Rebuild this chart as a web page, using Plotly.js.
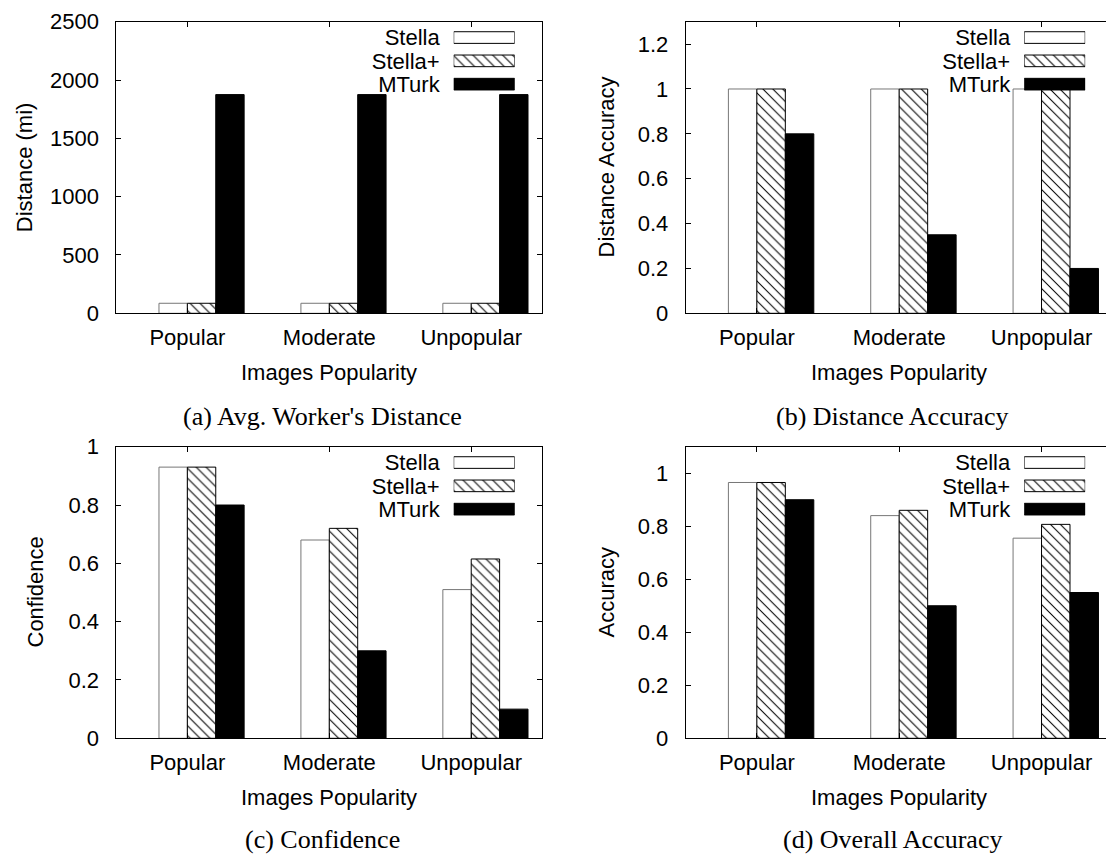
<!DOCTYPE html>
<html>
<head>
<meta charset="utf-8">
<script src="https://cdn.plot.ly/plotly-3.0.1.min.js"></script>
<style>
html, body { margin: 0; padding: 0; overflow: hidden; background: #fff; }
#chart { width: 1120px; height: 855px; }
</style>
</head>
<body>
<div id="chart"></div>
<script>
// ---------------- data ----------------
const categories = ['Popular', 'Moderate', 'Unpopular'];
const seriesNames = ['Stella', 'Stella+', 'MTurk'];

// (a) Avg. Worker's Distance (mi)
const distStella     = [86, 86, 86];
const distStellaPlus = [86, 86, 86];
const distMTurk      = [1875, 1875, 1875];

// (b) Distance Accuracy
const daStella     = [1, 1, 1];
const daStellaPlus = [1, 1, 1];
const daMTurk      = [0.8, 0.35, 0.2];

// (c) Confidence
const confStella     = [0.93, 0.68, 0.51];
const confStellaPlus = [0.93, 0.72, 0.615];
const confMTurk      = [0.8, 0.3, 0.1];

// (d) Overall Accuracy
const accStella     = [0.965, 0.84, 0.755];
const accStellaPlus = [0.965, 0.86, 0.807];
const accMTurk      = [0.9, 0.5, 0.55];

const yTitles  = ['Distance (mi)', 'Distance Accuracy', 'Confidence', 'Accuracy'];
const xTitle   = 'Images Popularity';
const captions = ["(a) Avg. Worker's Distance", '(b) Distance Accuracy', '(c) Confidence', '(d) Overall Accuracy'];
const yRanges  = [[0, 2500], [0, 1.3], [0, 1], [0, 1.1]];
const yDticks  = [500, 0.2, 0.2, 0.2];
const legendKeyLength = [1, 1, 1];

// ---------------- layout helpers ----------------
const W = 1120, H = 855;
const X = px => px / W;
const Y = py => 1 - py / H;

const panels = [
  {x0: 116.4, x1: 542.2,  y0: 21.7,  y1: 313.3, ytx: 24.7, capx: 322.7, capy: 417, data: [distStella, distStellaPlus, distMTurk]},
  {x0: 685.7, x1: 1112.7, y0: 21.7,  y1: 313.3, ytx: 606,  capx: 892.3, capy: 417, data: [daStella, daStellaPlus, daMTurk]},
  {x0: 116.4, x1: 542.2,  y0: 446.7, y1: 738.3, ytx: 35,   capx: 322.7, capy: 839, data: [confStella, confStellaPlus, confMTurk]},
  {x0: 685.7, x1: 1112.7, y0: 446.7, y1: 738.3, ytx: 606,  capx: 892.3, capy: 839, data: [accStella, accStellaPlus, accMTurk]}
];

const FONT = 'Liberation Sans, Arial, Helvetica, sans-serif';
const SERIF = 'Liberation Serif, Times New Roman, serif';

const barStyles = [
  {color: '#ffffff', line: {color: '#777777', width: 1}},
  {color: '#ffffff', line: {color: '#000000', width: 1},
   pattern: {shape: '\\', fgcolor: '#000000', bgcolor: '#ffffff', size: 7, solidity: 0.15}},
  {color: '#000000', line: {color: '#000000', width: 1}}
];
const legendStyles = [
  {color: '#ffffff', line: {color: '#000000', width: 1}},
  barStyles[1],
  barStyles[2]
];
const offsets = [-0.2, 0, 0.2];

const traces = [];
const layout = {
  width: W, height: H,
  margin: {l: 0, r: 0, t: 0, b: 0},
  paper_bgcolor: '#ffffff', plot_bgcolor: 'rgba(0,0,0,0)',
  font: {family: FONT, size: 22, color: '#000000'},
  showlegend: false,
  barmode: 'overlay',
  annotations: []
};

panels.forEach((p, i) => {
  const n = i + 1;
  const xa = 'x' + n, ya = 'y' + n;
  p.data.forEach((vals, s) => {
    traces.push({
      type: 'bar', x: categories, y: vals, name: seriesNames[s],
      xaxis: xa, yaxis: ya, width: 0.2, offset: offsets[s],
      marker: barStyles[s], hoverinfo: 'skip'
    });
  });
  layout['xaxis' + n] = {
    domain: [X(p.x0), X(p.x1)], anchor: ya, type: 'category',
    range: [-0.5, 2.5], showline: true, mirror: 'ticks', linecolor: '#000', linewidth: 1,
    ticks: 'inside', ticklen: 5, tickcolor: '#000', showgrid: false, zeroline: false,
    tickfont: {family: FONT, size: 22, color: '#000'}, ticklabelstandoff: 4, fixedrange: true
  };
  layout['yaxis' + n] = {
    domain: [Y(p.y1), Y(p.y0)], anchor: xa,
    range: yRanges[i], dtick: yDticks[i], tick0: 0,
    showline: true, mirror: 'ticks', linecolor: '#000', linewidth: 1,
    ticks: 'inside', ticklen: 5, tickcolor: '#000', showgrid: false, zeroline: false,
    tickfont: {family: FONT, size: 22, color: '#000'}, ticklabelstandoff: 12, fixedrange: true
  };

  // legend: a small horizontal-bar axis with the series names as tick labels
  const ln = n + 4;
  const boxRight = p.x1 - 27.5, boxLeft = boxRight - 61;
  const rowTop = p.y0 + 4.2, rowBottom = rowTop + 69.9;
  seriesNames.forEach((name, s) => {
    traces.push({
      type: 'bar', orientation: 'h', y: [name], x: [legendKeyLength[s]],
      xaxis: 'x' + ln, yaxis: 'y' + ln, width: 0.5, hoverinfo: 'skip',
      marker: legendStyles[s]
    });
  });
  layout['xaxis' + ln] = {
    domain: [X(boxLeft), X(boxRight)], anchor: 'y' + ln, range: [0, 1],
    visible: false, fixedrange: true
  };
  layout['yaxis' + ln] = {
    domain: [Y(rowBottom), Y(rowTop)], anchor: 'x' + ln, type: 'category',
    categoryorder: 'array', categoryarray: seriesNames,
    tickmode: 'array', tickvals: seriesNames, ticktext: seriesNames,
    range: [2.5, -0.5], showline: false, ticks: '', showgrid: false, zeroline: false,
    tickfont: {family: FONT, size: 22, color: '#000'}, ticklabelstandoff: 13, fixedrange: true
  };

  // axis titles and caption
  const cx = (p.x0 + p.x1) / 2;
  const cy = (p.y0 + p.y1) / 2;
  layout.annotations.push({
    text: yTitles[i], xref: 'paper', yref: 'paper', x: X(p.ytx), y: Y(cy),
    textangle: -90, showarrow: false, xanchor: 'center', yanchor: 'middle',
    font: {family: FONT, size: 22, color: '#000'}
  });
  layout.annotations.push({
    text: xTitle, xref: 'paper', yref: 'paper', x: X(cx), y: Y(p.y1 + 59),
    showarrow: false, xanchor: 'center', yanchor: 'middle',
    font: {family: FONT, size: 22, color: '#000'}
  });
  layout.annotations.push({
    text: captions[i], xref: 'paper', yref: 'paper',
    x: X(p.capx), y: Y(p.capy),
    showarrow: false, xanchor: 'center', yanchor: 'middle',
    font: {family: SERIF, size: 26, color: '#000'}
  });
});

Plotly.newPlot('chart', traces, layout, {staticPlot: true, displayModeBar: false});
</script>
</body>
</html>
